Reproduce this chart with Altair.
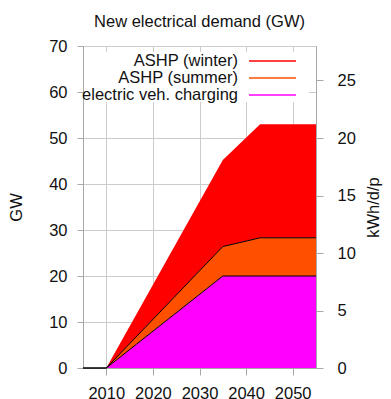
import altair as alt
import pandas as pd

years = [2005, 2010, 2035, 2043, 2055]
ev = [0, 0, 20.0, 20.0, 20.0]
summer = [0, 0, 6.4, 8.3, 8.3]
winter = [0, 0, 18.8, 24.7, 24.7]

series_names = ["ASHP (winter)", "ASHP (summer)", "electric veh. charging"]
series_colors = ["#ff0000", "#ff5000", "#ff00ff"]
GW_PER_KWHDP = 2.5

rows = []
for i, yr in enumerate(years):
    b0 = 0.0
    t0 = ev[i]
    t1 = t0 + summer[i]
    t2 = t1 + winter[i]
    rows.append({"year": yr, "series": "electric veh. charging", "lo": b0, "hi": t0})
    rows.append({"year": yr, "series": "ASHP (summer)", "lo": t0, "hi": t1})
    rows.append({"year": yr, "series": "ASHP (winter)", "lo": t1, "hi": t2})
df = pd.DataFrame(rows)
df["kwh"] = df["hi"] / GW_PER_KWHDP

legend_df = pd.DataFrame({"label": series_names, "color": series_colors,
                          "row": list(range(len(series_names)))})

FONT = "Liberation Sans"
FS = 16.5
AX = "#a8a8a8"
GRID = "#cccccc"

xscale = alt.Scale(domain=[2005, 2055], nice=False, zero=False)
yscale = alt.Scale(domain=[0, 70], nice=False)

x_enc = alt.X("year:Q", scale=xscale,
              axis=alt.Axis(values=[2010, 2020, 2030, 2040, 2050], format="d", title=None,
                            grid=True, gridColor=GRID, domainColor=AX, tickColor=AX,
                            tickSize=7, labelPadding=10, labelFontSize=FS, labelFont=FONT,
                            labelColor="#111111"))

y_axis = alt.Axis(values=list(range(0, 71, 10)), title="GW", grid=True, gridColor=GRID,
                  domainColor=AX, tickColor=AX, tickSize=6, labelPadding=10,
                  labelFontSize=FS, labelFont=FONT, labelColor="#111111",
                  titleFontSize=FS, titleFont=FONT, titleFontWeight="normal",
                  titleColor="#111111", titlePadding=24)

areas = alt.Chart(df).mark_area(opacity=1, strokeWidth=0).encode(
    x=x_enc,
    y=alt.Y("hi:Q", scale=yscale, axis=y_axis),
    y2="lo:Q",
    fill=alt.Fill("series:N", scale=alt.Scale(domain=series_names, range=series_colors), legend=None),
    detail="series:N",
)

edges = alt.Chart(df).transform_filter(
    alt.FieldOneOfPredicate(field="series", oneOf=["electric veh. charging", "ASHP (summer)"])
).mark_line(color="black", strokeWidth=1).encode(
    x=alt.X("year:Q", scale=xscale),
    y=alt.Y("hi:Q", scale=yscale),
    detail="series:N",
)

left = alt.layer(areas, edges)

right = alt.Chart(df).mark_point(opacity=0).encode(
    x=alt.X("year:Q", scale=xscale),
    y=alt.Y("kwh:Q", scale=alt.Scale(domain=[0, 28], nice=False),
            axis=alt.Axis(orient="right", values=[0, 5, 10, 15, 20, 25], title="kWh/d/p",
                          grid=False, domainColor=AX, tickColor=AX, tickSize=7,
                          labelPadding=14, labelFontSize=FS, labelFont=FONT,
                          labelColor="#111111", titleFontSize=FS, titleFont=FONT,
                          titleFontWeight="normal", titleColor="#111111",
                          titleAngle=270, titlePadding=26)),
)

# legend (key) drawn inside the plot, labels left of the line samples
row_scale = alt.Scale(domain=[0, 2], range=[15, 49])
key_bg = alt.Chart(legend_df).transform_aggregate(n="count()").mark_rect(
    fill="white", stroke=None
).encode(x=alt.value(1), x2=alt.value(226), y=alt.value(6), y2=alt.value(56))
key_text = alt.Chart(legend_df).mark_text(
    align="right", baseline="middle", fontSize=FS, font=FONT, color="#111111"
).encode(
    x=alt.value(155),
    y=alt.Y("row:Q", scale=row_scale, axis=None),
    text="label:N",
)
key_line = alt.Chart(legend_df).mark_rule(strokeWidth=1.3).encode(
    x=alt.value(166), x2=alt.value(213),
    y=alt.Y("row:Q", scale=row_scale, axis=None),
    color=alt.Color("color:N", scale=None),
)
key = alt.layer(key_bg, key_text, key_line)

chart = alt.layer(left, right, key).resolve_scale(y="independent").properties(
    width=233, height=322,
    title=alt.TitleParams("New electrical demand (GW)", fontSize=FS, font=FONT,
                          fontWeight="normal", color="#111111", anchor="middle", offset=8),
    autosize=alt.AutoSizeParams(type="none"),
    padding={"left": 75, "top": 38, "right": 67, "bottom": 31},
).configure_view(stroke=AX)

chart.save("out.html", embed_options={"renderer": "svg", "actions": False})
